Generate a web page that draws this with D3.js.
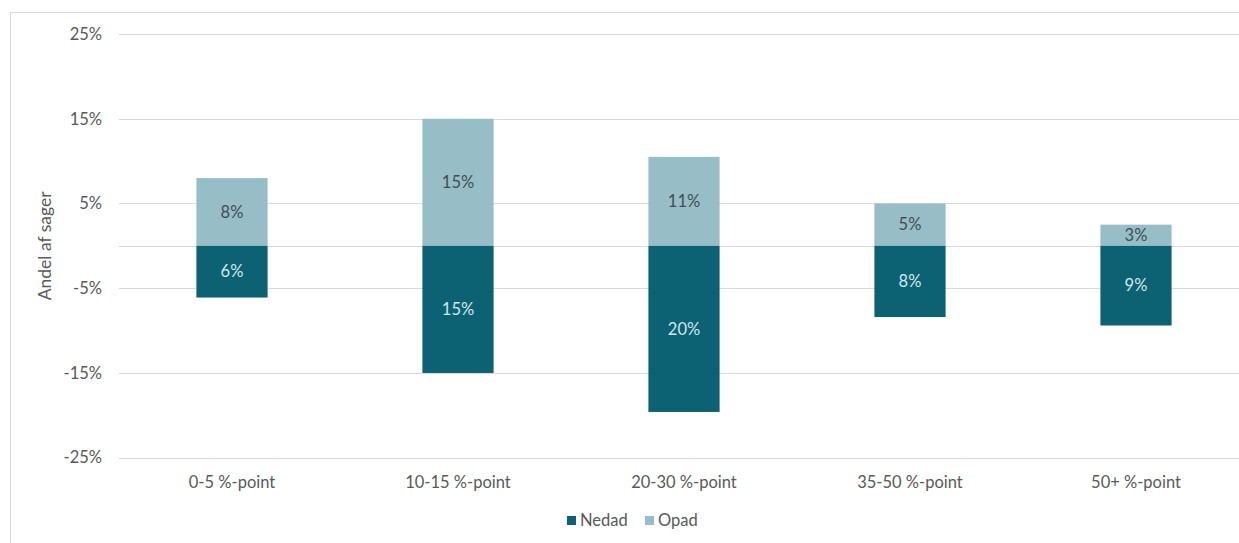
<!DOCTYPE html>
<html><head><meta charset="utf-8">
<script src="https://cdn.jsdelivr.net/npm/d3@7"></script>
<style>
body{margin:0;background:#fff;}
text{font-family:Lato,"Open Sans",sans-serif;}
</style></head>
<body><svg id="c" width="1239" height="543"></svg>
<script>
const categories = ["0-5 %-point","10-15 %-point","20-30 %-point","35-50 %-point","50+ %-point"];
const nedad = [6.1, 15.0, 19.6, 8.4, 9.4];
const opad = [8.0, 15.0, 10.5, 5.0, 2.5];
const yTicks = [-25, -15, -5, 5, 15, 25];
const seriesNames = ["Nedad", "Opad"];
const colors = {Nedad: "#0c6172", Opad: "#97bdc7"};
const FS = "16.5px";

const svg = d3.select("#c");
// frame
svg.append("path").attr("d", "M10.5,543 V12.5 H1239").attr("fill","none").attr("stroke","#d9d9d9").attr("stroke-width",1);

const x = d3.scaleBand().domain(categories).range([119, 1249]).paddingInner(0.685).paddingOuter(0.3425);
const y = d3.scaleLinear().domain([-25, 25]).range([457.7, 34]);

// gridlines
const g = svg.append("g");
g.selectAll("line.grid").data(yTicks.concat([0])).join("line")
  .attr("x1", 119).attr("x2", 1239)
  .attr("y1", d => Math.round(y(d)) + 0.5).attr("y2", d => Math.round(y(d)) + 0.5)
  .attr("stroke", "#d9d9d9").attr("stroke-width", 1);

// y tick labels
const yAxis = d3.axisLeft(y).tickValues(yTicks).tickFormat(d => d + "%").tickSize(0).tickPadding(0);
const ya = svg.append("g").attr("transform", "translate(102,0)").call(yAxis);
ya.select(".domain").remove();
ya.selectAll("text").attr("fill", "#595959").style("font-size", FS).style("font-family", "Lato,'Open Sans',sans-serif");

// y title
svg.append("text").attr("transform", "translate(51," + y(0) + ") rotate(-90)")
  .attr("text-anchor", "middle").attr("fill", "#595959").style("font-size", "17.5px").text("Andel af sager");

// bars
const bars = svg.append("g");
categories.forEach((c, i) => {
  bars.append("rect").attr("x", x(c)).attr("width", x.bandwidth())
    .attr("y", y(opad[i])).attr("height", y(0) - y(opad[i])).attr("fill", colors.Opad);
  bars.append("rect").attr("x", x(c)).attr("width", x.bandwidth())
    .attr("y", y(0)).attr("height", y(-nedad[i]) - y(0)).attr("fill", colors.Nedad);
  bars.append("text").attr("x", x(c) + x.bandwidth()/2).attr("y", (y(opad[i]) + y(0))/2)
    .attr("dy", "0.35em").attr("text-anchor", "middle").attr("fill", "#3f4f55").style("font-size", FS)
    .text(Math.round(opad[i]) + "%");
  bars.append("text").attr("x", x(c) + x.bandwidth()/2).attr("y", (y(-nedad[i]) + y(0))/2)
    .attr("dy", "0.35em").attr("text-anchor", "middle").attr("fill", "#cfe8ef").style("font-size", FS)
    .text(Math.round(nedad[i]) + "%");
});

// x labels
const xAxis = d3.axisBottom(x).tickSize(0).tickPadding(0);
const xa = svg.append("g").attr("transform", "translate(0,476)").call(xAxis);
xa.select(".domain").remove();
xa.selectAll("text").attr("fill", "#595959").style("font-size", FS).style("font-family", "Lato,'Open Sans',sans-serif");

// legend
const leg = svg.append("g");
const legX = [567, 645];
seriesNames.forEach((s, i) => {
  leg.append("rect").attr("x", legX[i]).attr("y", 516).attr("width", 9).attr("height", 9).attr("fill", colors[s]);
  leg.append("text").attr("x", legX[i] + 13).attr("y", 520.5).attr("dy", "0.35em")
    .attr("fill", "#595959").style("font-size", FS).text(s);
});
</script></body></html>
